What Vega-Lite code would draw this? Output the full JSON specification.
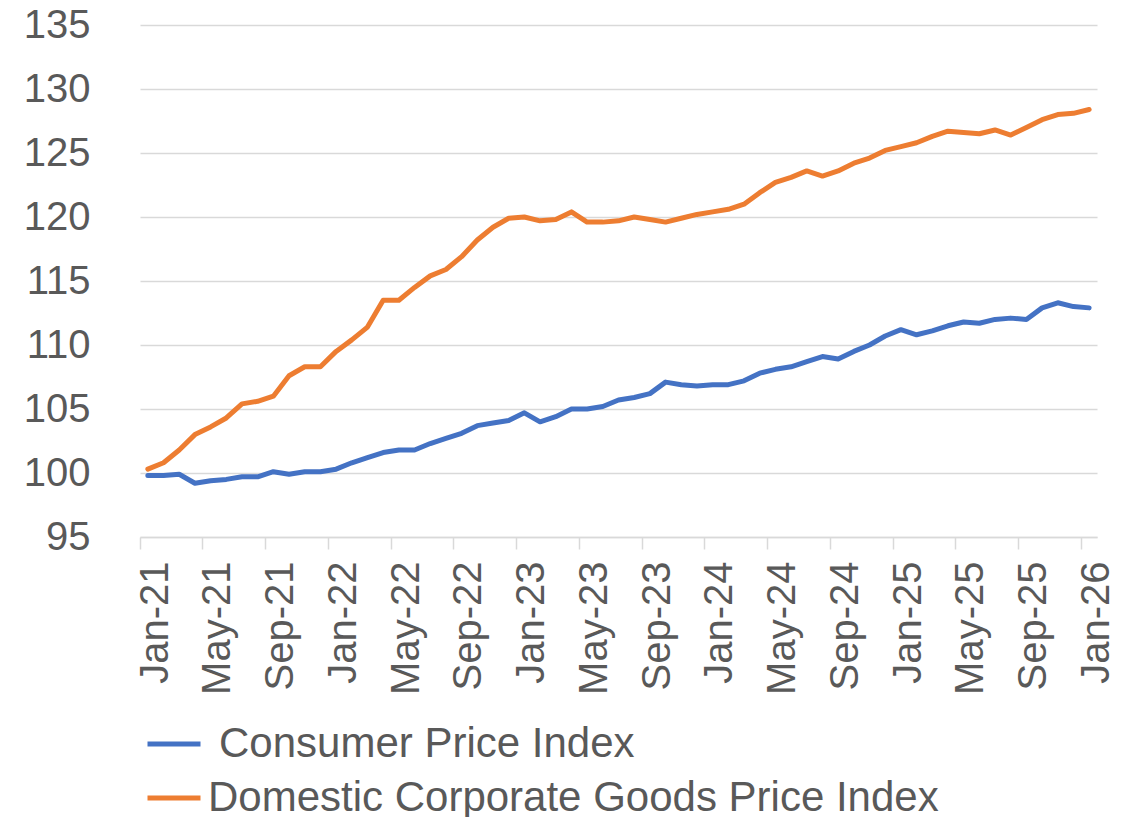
{
  "$schema": "https://vega.github.io/schema/vega-lite/v6.json",
  "autosize": {"type": "none"},
  "width": 957,
  "height": 512,
  "padding": {"left": 140, "top": 25, "right": 31, "bottom": 280},
  "background": "white",
  "config": {
    "view": {"stroke": null},
    "font": "Liberation Sans"
  },
  "datasets": {
    "cpi": [
      {"m":"Jan-21","v":99.8},{"m":"Feb-21","v":99.8},{"m":"Mar-21","v":99.9},{"m":"Apr-21","v":99.2},
      {"m":"May-21","v":99.4},{"m":"Jun-21","v":99.5},{"m":"Jul-21","v":99.7},{"m":"Aug-21","v":99.7},
      {"m":"Sep-21","v":100.1},{"m":"Oct-21","v":99.9},{"m":"Nov-21","v":100.1},{"m":"Dec-21","v":100.1},
      {"m":"Jan-22","v":100.3},{"m":"Feb-22","v":100.8},{"m":"Mar-22","v":101.2},{"m":"Apr-22","v":101.6},
      {"m":"May-22","v":101.8},{"m":"Jun-22","v":101.8},{"m":"Jul-22","v":102.3},{"m":"Aug-22","v":102.7},
      {"m":"Sep-22","v":103.1},{"m":"Oct-22","v":103.7},{"m":"Nov-22","v":103.9},{"m":"Dec-22","v":104.1},
      {"m":"Jan-23","v":104.7},{"m":"Feb-23","v":104.0},{"m":"Mar-23","v":104.4},{"m":"Apr-23","v":105.0},
      {"m":"May-23","v":105.0},{"m":"Jun-23","v":105.2},{"m":"Jul-23","v":105.7},{"m":"Aug-23","v":105.9},
      {"m":"Sep-23","v":106.2},{"m":"Oct-23","v":107.1},{"m":"Nov-23","v":106.9},{"m":"Dec-23","v":106.8},
      {"m":"Jan-24","v":106.9},{"m":"Feb-24","v":106.9},{"m":"Mar-24","v":107.2},{"m":"Apr-24","v":107.8},
      {"m":"May-24","v":108.1},{"m":"Jun-24","v":108.3},{"m":"Jul-24","v":108.7},{"m":"Aug-24","v":109.1},
      {"m":"Sep-24","v":108.9},{"m":"Oct-24","v":109.5},{"m":"Nov-24","v":110.0},{"m":"Dec-24","v":110.7},
      {"m":"Jan-25","v":111.2},{"m":"Feb-25","v":110.8},{"m":"Mar-25","v":111.1},{"m":"Apr-25","v":111.5},
      {"m":"May-25","v":111.8},{"m":"Jun-25","v":111.7},{"m":"Jul-25","v":112.0},{"m":"Aug-25","v":112.1},
      {"m":"Sep-25","v":112.0},{"m":"Oct-25","v":112.9},{"m":"Nov-25","v":113.3},{"m":"Dec-25","v":113.0},
      {"m":"Jan-26","v":112.9}
    ],
    "cgpi": [
      {"m":"Jan-21","v":100.3},{"m":"Feb-21","v":100.8},{"m":"Mar-21","v":101.8},{"m":"Apr-21","v":103.0},
      {"m":"May-21","v":103.6},{"m":"Jun-21","v":104.3},{"m":"Jul-21","v":105.4},{"m":"Aug-21","v":105.6},
      {"m":"Sep-21","v":106.0},{"m":"Oct-21","v":107.6},{"m":"Nov-21","v":108.3},{"m":"Dec-21","v":108.3},
      {"m":"Jan-22","v":109.5},{"m":"Feb-22","v":110.4},{"m":"Mar-22","v":111.4},{"m":"Apr-22","v":113.5},
      {"m":"May-22","v":113.5},{"m":"Jun-22","v":114.5},{"m":"Jul-22","v":115.4},{"m":"Aug-22","v":115.9},
      {"m":"Sep-22","v":116.9},{"m":"Oct-22","v":118.2},{"m":"Nov-22","v":119.2},{"m":"Dec-22","v":119.9},
      {"m":"Jan-23","v":120.0},{"m":"Feb-23","v":119.7},{"m":"Mar-23","v":119.8},{"m":"Apr-23","v":120.4},
      {"m":"May-23","v":119.6},{"m":"Jun-23","v":119.6},{"m":"Jul-23","v":119.7},{"m":"Aug-23","v":120.0},
      {"m":"Sep-23","v":119.8},{"m":"Oct-23","v":119.6},{"m":"Nov-23","v":119.9},{"m":"Dec-23","v":120.2},
      {"m":"Jan-24","v":120.4},{"m":"Feb-24","v":120.6},{"m":"Mar-24","v":121.0},{"m":"Apr-24","v":121.9},
      {"m":"May-24","v":122.7},{"m":"Jun-24","v":123.1},{"m":"Jul-24","v":123.6},{"m":"Aug-24","v":123.2},
      {"m":"Sep-24","v":123.6},{"m":"Oct-24","v":124.2},{"m":"Nov-24","v":124.6},{"m":"Dec-24","v":125.2},
      {"m":"Jan-25","v":125.5},{"m":"Feb-25","v":125.8},{"m":"Mar-25","v":126.3},{"m":"Apr-25","v":126.7},
      {"m":"May-25","v":126.6},{"m":"Jun-25","v":126.5},{"m":"Jul-25","v":126.8},{"m":"Aug-25","v":126.4},
      {"m":"Sep-25","v":127.0},{"m":"Oct-25","v":127.6},{"m":"Nov-25","v":128.0},{"m":"Dec-25","v":128.1},
      {"m":"Jan-26","v":128.4}
    ]
  },
  "encoding": {
    "x": {
      "field": "m", "type": "ordinal", "sort": null,
      "scale": {"type": "band", "paddingInner": 0, "paddingOuter": 0},
      "axis": {
        "title": null,
        "values": ["Jan-21","May-21","Sep-21","Jan-22","May-22","Sep-22","Jan-23","May-23","Sep-23","Jan-24","May-24","Sep-24","Jan-25","May-25","Sep-25","Jan-26"],
        "bandPosition": 0,
        "labelOffset": 7.85,
        "labelAngle": -90,
        "labelAlign": "right",
        "labelBaseline": "middle",
        "labelFontSize": 40,
        "labelFont": "Liberation Sans",
        "labelColor": "#595959",
        "labelPadding": 12,
        "labelOverlap": false,
        "domainColor": "#d9d9d9",
        "domainWidth": 1.5,
        "tickColor": "#d9d9d9",
        "tickWidth": 1.5,
        "tickSize": 12,
        "grid": false
      }
    },
    "y": {
      "field": "v", "type": "quantitative",
      "scale": {"domain": [95, 135], "nice": false, "zero": false},
      "axis": {
        "title": null,
        "values": [95,100,105,110,115,120,125,130,135],
        "domain": false,
        "ticks": false,
        "grid": true,
        "gridColor": "#d9d9d9",
        "gridWidth": 1.5,
        "labelFontSize": 40,
        "labelFont": "Liberation Sans",
        "labelColor": "#595959",
        "labelPadding": 50
      }
    }
  },
  "layer": [
    {
      "data": {"name": "cpi"},
      "transform": [{"calculate": "'Consumer Price Index'", "as": "s"}],
      "mark": {"type": "line", "strokeWidth": 5, "strokeCap": "round", "strokeJoin": "round"},
      "encoding": {
        "color": {
          "field": "s", "type": "nominal",
          "scale": {"domain": ["Consumer Price Index"], "range": ["#4472C4"]},
          "legend": {
            "title": null, "orient": "none", "legendX": 5, "legendY": 690, "padding": 0,
            "symbolType": "stroke", "symbolSize": 2809, "symbolStrokeWidth": 5,
            "labelOffset": 16, "labelFontSize": 42, "labelFont": "Liberation Sans",
            "labelColor": "#595959", "labelLimit": 1000
          }
        }
      }
    },
    {
      "data": {"name": "cgpi"},
      "transform": [{"calculate": "'Domestic Corporate Goods Price Index'", "as": "s"}],
      "mark": {"type": "line", "strokeWidth": 5, "strokeCap": "round", "strokeJoin": "round"},
      "encoding": {
        "color": {
          "field": "s", "type": "nominal",
          "scale": {"domain": ["Domestic Corporate Goods Price Index"], "range": ["#ED7D31"]},
          "legend": {
            "title": null, "orient": "none", "legendX": 5, "legendY": 744, "padding": 0,
            "symbolType": "stroke", "symbolSize": 2809, "symbolStrokeWidth": 5,
            "labelOffset": 5, "labelFontSize": 42, "labelFont": "Liberation Sans",
            "labelColor": "#595959", "labelLimit": 1000
          }
        }
      }
    }
  ],
  "resolve": {"scale": {"color": "independent"}, "legend": {"color": "independent"}}
}
